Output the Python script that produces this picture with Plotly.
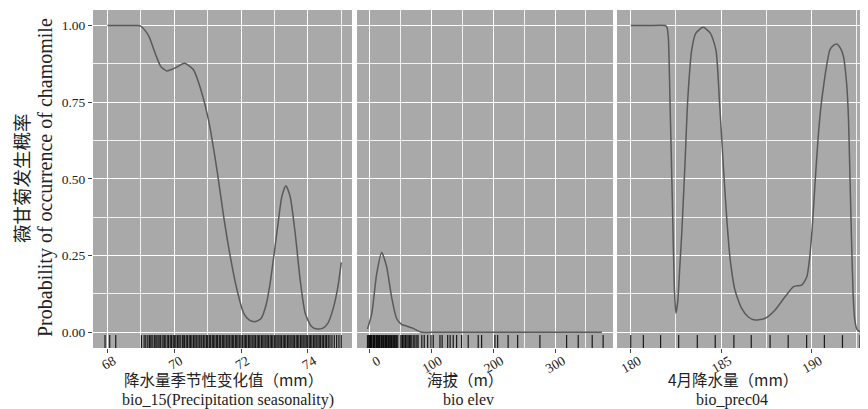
import plotly.graph_objects as go
from plotly.subplots import make_subplots

# ---------------- data ----------------
bio15_x = [68.0, 68.5, 68.9, 69.0, 69.12, 69.25, 69.45, 69.6, 69.78, 70.03, 70.31, 70.58, 70.8, 71.03,
           71.28, 71.48, 71.68, 71.88, 72.08, 72.25, 72.43, 72.6, 72.75, 72.87, 73.07, 73.22, 73.34,
           73.47, 73.62, 73.77, 73.92, 74.1, 74.27, 74.45, 74.6, 74.77, 74.9, 75.0]
bio15_y = [1.0, 1.0, 1.0, 0.998, 0.985, 0.963, 0.904, 0.866, 0.852, 0.862, 0.877, 0.855, 0.79, 0.69,
           0.529, 0.377, 0.246, 0.138, 0.062, 0.04, 0.035, 0.045, 0.09, 0.16, 0.323, 0.442, 0.478,
           0.442, 0.323, 0.17, 0.062, 0.02, 0.011, 0.014, 0.03, 0.083, 0.15, 0.228]
bio15_rug = [67.93, 68.07, 68.25, 69.02, 69.1, 69.15, 69.21, 69.26, 69.3, 69.34, 69.4, 69.43, 69.48,
             69.52, 69.57, 69.6, 69.66, 69.7, 69.73, 69.79, 69.83, 69.88, 69.92, 69.97, 70.01, 70.05,
             70.1, 70.14, 70.18, 70.24, 70.27, 70.31, 70.36, 70.4, 70.45, 70.49, 70.53, 70.58, 70.62,
             70.66, 70.71, 70.75, 70.8, 70.83, 70.88, 70.92, 70.97, 71.0, 71.05, 71.09, 71.14, 71.18,
             71.22, 71.27, 71.3, 71.35, 71.39, 71.44, 71.48, 71.52, 71.57, 71.61, 71.65, 71.7, 71.74,
             71.78, 71.83, 71.87, 71.91, 71.96, 72.0, 72.04, 72.09, 72.13, 72.17, 72.22, 72.26, 72.3,
             72.35, 72.39, 72.43, 72.48, 72.52, 72.56, 72.61, 72.65, 72.69, 72.74, 72.78, 72.82, 72.87,
             72.91, 72.95, 73.0, 73.04, 73.08, 73.13, 73.17, 73.21, 73.26, 73.3, 73.34, 73.39, 73.43,
             73.47, 73.52, 73.56, 73.6, 73.65, 73.69, 73.73, 73.78, 73.82, 73.86, 73.91, 73.95, 73.99,
             74.04, 74.08, 74.12, 74.17, 74.21, 74.25, 74.3, 74.34, 74.38, 74.43, 74.47, 74.52, 74.56,
             74.61, 74.66, 74.72, 74.79, 74.86, 74.93, 75.0]

elev_x = [-4, 3, 11, 19, 27, 35, 43, 51, 60, 70, 78, 84, 100, 200, 300, 376]
elev_y = [0.011, 0.062, 0.192, 0.26, 0.214, 0.116, 0.046, 0.026, 0.02, 0.013, 0.005, 0.0, 0.0, 0.0, 0.0, 0.0]
elev_rug = [-4, -2, -1, 0, 1, 2, 3, 5, 6, 7, 8, 10, 11, 12, 14, 15, 16, 18, 19, 20, 22, 23, 25, 26,
            27, 29, 30, 32, 33, 35, 36, 38, 40, 41, 43, 45, 50, 52, 53, 55, 57, 58, 60, 62, 64, 66,
            68, 71, 73, 76, 78, 84, 88, 93.5, 99, 102.6, 113.5, 117, 126, 130, 135, 140.5, 148.6,
            159.3, 175.5, 181, 202.6, 207, 224, 239.4, 275.5, 318.8, 337.6, 360.3, 378]

prec_x = [180, 181, 181.9, 182.0, 182.08, 182.17, 182.3, 182.41, 182.5, 182.6, 182.7, 182.82, 183.0,
          183.15, 183.37, 183.6, 184.0, 184.4, 184.71, 184.9, 185.0, 185.12, 185.3, 185.48, 185.76,
          186.13, 186.5, 186.87, 187.43, 187.98, 188.53, 189.0, 189.45, 189.73, 189.9, 190.05, 190.2,
          190.35, 190.5, 190.65, 190.8, 191.0, 191.2, 191.38, 191.6, 191.75, 191.93, 192.03, 192.1,
          192.2, 192.29, 192.38, 192.5, 192.65, 192.7]
prec_y = [1.0, 1.0, 1.0, 0.995, 0.96, 0.757, 0.43, 0.149, 0.062, 0.1, 0.2, 0.323, 0.55, 0.757, 0.92,
          0.975, 0.994, 0.975, 0.92, 0.757, 0.66, 0.54, 0.377, 0.246, 0.138, 0.078, 0.05, 0.04, 0.046,
          0.073, 0.116, 0.149, 0.154, 0.181, 0.25, 0.36, 0.5, 0.63, 0.73, 0.8, 0.86, 0.92, 0.935, 0.94,
          0.925, 0.9, 0.81, 0.7, 0.54, 0.3, 0.12, 0.04, 0.01, 0.002, 0.0]
prec_rug = [180, 180.7, 181.65, 182.65, 183.68, 184.67, 185.7, 186.66, 187.7, 188.7, 189.72, 190.7,
            191.7, 192.67]

y_ticks = [0.0, 0.25, 0.5, 0.75, 1.0]
y_ticklabels = ["0.00", "0.25", "0.50", "0.75", "1.00"]
x_titles_cn = ["降水量季节性变化值（mm）", "海拔（m）", "4月降水量（mm）"]
x_titles_en = ["bio_15(Precipitation seasonality)", "bio elev", "bio_prec04"]
y_title_cn = "薇甘菊发生概率"
y_title_en = "Probability of occurrence of chamomile"

# ---------------- figure ----------------
SERIF = "Liberation Serif, Times New Roman, Noto Sans CJK SC, serif"
CJK = "Noto Sans CJK SC, Liberation Serif, serif"
LINE_COLOR = "#5a5a5a"
PANEL_BG = "#a9a9a9"
RUG_Y = -0.034
RUG_COLOR = "rgba(0,0,0,0.85)"

fig = make_subplots(rows=1, cols=3, shared_yaxes=True, horizontal_spacing=0.005)

curves = [(bio15_x, bio15_y, bio15_rug), (elev_x, elev_y, elev_rug), (prec_x, prec_y, prec_rug)]
for i, (cx, cy, rug) in enumerate(curves, start=1):
    fig.add_trace(go.Scatter(x=cx, y=cy, mode="lines",
                             line=dict(color=LINE_COLOR, width=1.5, shape="spline", smoothing=0.6),
                             showlegend=False, hoverinfo="skip"), row=1, col=i)
    fig.add_trace(go.Scatter(x=rug, y=[RUG_Y] * len(rug), mode="markers",
                             marker=dict(symbol="line-ns-open", size=11, color=RUG_COLOR,
                                         line=dict(width=1.2, color=RUG_COLOR)),
                             showlegend=False, hoverinfo="skip"), row=1, col=i)

# The page body has an 8px margin, so the figure is drawn 8px narrower/shorter
W_PLOT = 775.0
H_PLOT = 338.0
domains = [[0.0, 259 / W_PLOT], [264 / W_PLOT, 520 / W_PLOT], [524 / W_PLOT, 1.0]]
ranges = [[67.57, 75.32], [-21, 394], [179.243, 193.11]]
ticks = [(68, 2, 1), (0, 100, 50), (180, 5, 2.5)]
label_shift = [6, 8, 8]

for i in range(3):
    t0, dt, mdt = ticks[i]
    fig.update_xaxes(
        row=1, col=i + 1, domain=domains[i], range=ranges[i], automargin=False,
        tick0=t0, dtick=dt, showgrid=True, gridcolor="white", gridwidth=1.1,
        minor=dict(tick0=t0, dtick=mdt, showgrid=True, gridcolor="rgba(255,255,255,0.85)", gridwidth=0.7),
        ticks="outside", ticklen=4, tickcolor="#444", tickangle=-30,
        ticklabelshift=label_shift[i], ticklabelstandoff=-5,
        tickfont=dict(family=SERIF, size=13.5, color="#222"),
        zeroline=False, showline=False,
    )

fig.update_yaxes(
    range=[-0.051, 1.0505], tickvals=y_ticks, ticktext=y_ticklabels, automargin=False,
    showgrid=True, gridcolor="white", gridwidth=1.1,
    minor=dict(dtick=0.125, tick0=0, showgrid=True, gridcolor="rgba(255,255,255,0.85)", gridwidth=0.7),
    zeroline=False, showline=False,
)
fig.update_yaxes(row=1, col=1, ticks="outside", ticklen=4, tickcolor="#444",
                 tickfont=dict(family=SERIF, size=13.5, color="#222"))

annotations = []
centers_cn = [223, 465, 733]
centers_en = [228, 468, 732]
for i in range(3):
    annotations.append(dict(text=x_titles_cn[i], xref="paper", yref="paper",
                            x=(centers_cn[i] - 93) / W_PLOT, y=(348 - 378.5) / H_PLOT,
                            xanchor="center", yanchor="middle", showarrow=False,
                            font=dict(family=CJK, size=15.5, color="#222")))
    annotations.append(dict(text=x_titles_en[i], xref="paper", yref="paper",
                            x=(centers_en[i] - 93) / W_PLOT, y=(348 - 400) / H_PLOT,
                            xanchor="center", yanchor="middle", showarrow=False,
                            font=dict(family=SERIF, size=16, color="#222")))
annotations.append(dict(text=y_title_cn, xref="paper", yref="paper",
                        x=(21 - 93) / W_PLOT, y=(348 - 178) / H_PLOT, textangle=-90,
                        xanchor="center", yanchor="middle", showarrow=False,
                        font=dict(family=CJK, size=18.5, color="#222")))
annotations.append(dict(text=y_title_en, xref="paper", yref="paper",
                        x=(45 - 93) / W_PLOT, y=(348 - 178) / H_PLOT, textangle=-90,
                        xanchor="center", yanchor="middle", showarrow=False,
                        font=dict(family=SERIF, size=20, color="#222")))

fig.update_layout(
    width=860, height=401,
    margin=dict(l=85, r=0, t=2, b=61, autoexpand=False),
    paper_bgcolor="white", plot_bgcolor=PANEL_BG,
    annotations=annotations, showlegend=False,
)

fig.write_html("out.html")
